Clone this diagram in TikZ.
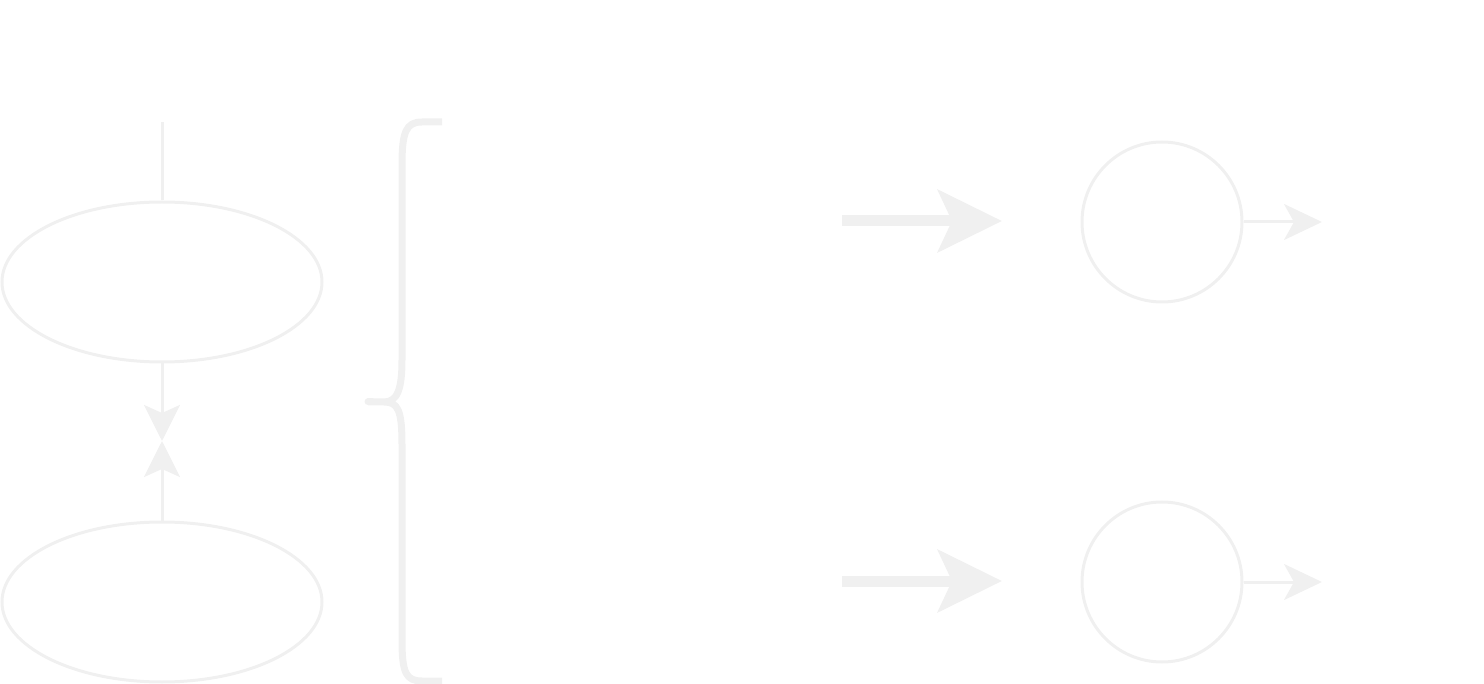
\documentclass[tikz,border=0pt]{standalone}
\usetikzlibrary{shapes.geometric,arrows.meta}
\definecolor{pale}{HTML}{F0F0F0}

\begin{document}
\begin{tikzpicture}[x=1pt,y=-1pt,
  blob/.style={ellipse,draw=pale,line width=3pt,minimum width=320pt,minimum height=160pt,inner sep=0pt},
  ring/.style={circle,draw=pale,line width=3pt,minimum size=160pt,inner sep=0pt},
  thin/.style={draw=pale,line width=3pt},
  meet/.style={-{Stealth[length=36pt,width=36pt,inset=8pt]},pale,line width=3pt},
  fat/.style={-{Stealth[length=64pt,width=62pt,inset=14pt]},pale,line width=11pt},
  small/.style={-{Stealth[length=38pt,width=36pt,inset=10pt]},pale,line width=3pt}]
      \useasboundingbox (0,0) rectangle (1484,684);
      % left column
      \node[blob] (upper) at (162,282) {};
      \node[blob] (lower) at (162,602) {};
      \coordinate (feed) at (162,122);
      \coordinate (mid) at (162,441);
      \draw[thin] (feed) -- (upper.north);
      \draw[meet] (upper.south) -- (mid);
      \draw[meet] (lower.north) -- (mid);
      % brace
      \draw[pale,line width=7pt,line join=round]
        (442,122) -- (422,122) .. controls (406,122) and (402,132) .. (402,165)
        -- (402,360) .. controls (402,390) and (397,402) .. (384,402) -- (368,402)
        (384,402) .. controls (398,402) and (402,410) .. (402,445)
        -- (402,640) .. controls (402,673) and (406,681) .. (422,681) -- (442,681);
      \draw[pale,line width=7pt,line cap=round] (368,402) -- (372,402);
      % right column
      \foreach \y/\n in {221/a,581/b}{
        \node[ring] (c\n) at (1162,\y+1) {};
        \coordinate (s\n) at (842,\y);
        \coordinate (t\n) at (1002,\y);
        \coordinate (o\n) at (1322,\y+1);
        \draw[fat] (s\n) -- (t\n);
        \draw[small] (c\n.east) -- (o\n);
      }
\end{tikzpicture}
\end{document}
